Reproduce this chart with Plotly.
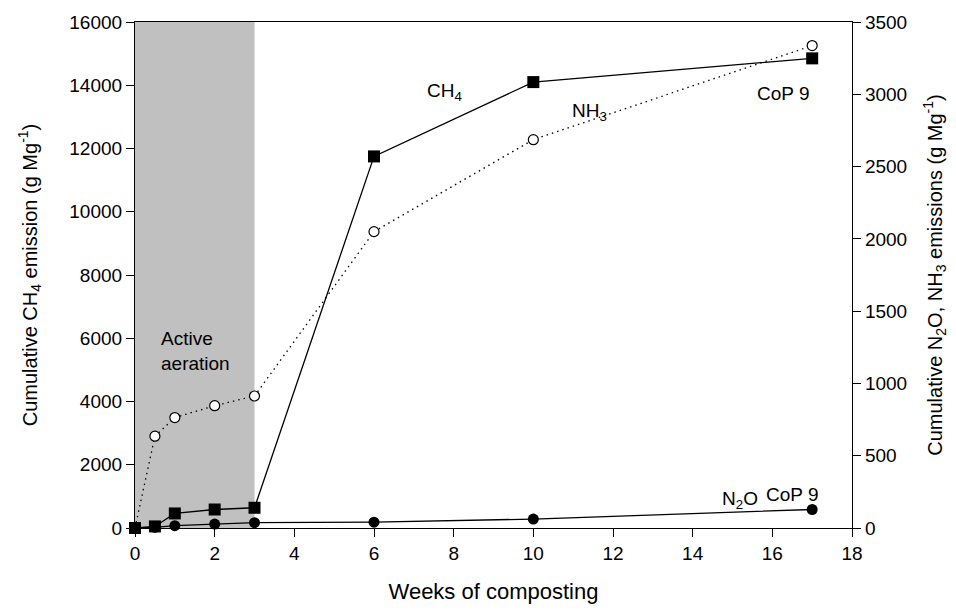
import plotly.graph_objects as go

weeks_ch4 = [0, 0.5, 1, 2, 3, 6, 10, 17]
ch4 = [0, 50, 460, 585, 640, 11750, 14100, 14850]

weeks_nh3 = [0, 0.5, 1, 2, 3, 6, 10, 17]
nh3 = [0, 635, 764, 846, 913, 2050, 2686, 3337]

weeks_n2o = [0, 0.5, 1, 2, 3, 6, 10, 17]
n2o = [0, 5, 16, 27, 37, 40, 62, 128]

FONT = "Liberation Sans, Arial, sans-serif"

fig = go.Figure()

fig.add_shape(type="rect", xref="x", yref="paper", x0=0, x1=3, y0=0, y1=1,
              fillcolor="#C0C0C0", line=dict(width=0), layer="below")

fig.add_trace(go.Scatter(x=weeks_nh3, y=nh3, yaxis="y2", mode="lines+markers",
                         line=dict(color="black", width=1.3, dash="1.5px,4px"),
                         marker=dict(symbol="circle", size=10, color="white",
                                     line=dict(color="black", width=1.2)),
                         cliponaxis=False, showlegend=False))
fig.add_trace(go.Scatter(x=weeks_n2o, y=n2o, yaxis="y2", mode="lines+markers",
                         line=dict(color="black", width=1.3),
                         marker=dict(symbol="circle", size=11, color="black"),
                         cliponaxis=False, showlegend=False))
fig.add_trace(go.Scatter(x=weeks_ch4, y=ch4, mode="lines+markers",
                         line=dict(color="black", width=1.3),
                         marker=dict(symbol="square", size=12, color="black"),
                         cliponaxis=False, showlegend=False))

ann = dict(showarrow=False, font=dict(family=FONT, size=19, color="black"))
fig.add_annotation(x=7.78, y=13800, xref="x", yref="y", text="CH<sub>4</sub>", **ann)
fig.add_annotation(x=11.4, y=13150, xref="x", yref="y", text="NH<sub>3</sub>", **ann)
fig.add_annotation(x=16.27, y=13750, xref="x", yref="y", text="CoP 9", **ann)
fig.add_annotation(x=15.2, y=900, xref="x", yref="y", text="N<sub>2</sub>O", **ann)
fig.add_annotation(x=16.5, y=1070, xref="x", yref="y", text="CoP 9", **ann)
fig.add_annotation(x=0.6, y=5600, xref="x", yref="y", xanchor="left",
                   text="Active<br>aeration", align="left", **ann)

fig.update_layout(
    width=956, height=611,
    margin=dict(l=135, r=104, t=18, b=83),
    plot_bgcolor="white", paper_bgcolor="white",
    font=dict(family=FONT, size=19, color="black"),
    xaxis=dict(range=[0, 18], tickmode="linear", tick0=0, dtick=2,
               ticks="outside", ticklen=8, tickwidth=1, tickcolor="black",
               showline=True, linecolor="black", linewidth=1.2, mirror=True,
               showgrid=False, zeroline=False, tickfont=dict(size=19),
               title=dict(text="Weeks of composting", font=dict(size=22), standoff=20)),
    yaxis=dict(range=[0, 16000], tickmode="linear", tick0=0, dtick=2000, tickformat="d",
               ticks="outside", ticklen=8, tickwidth=1, tickcolor="black",
               showline=True, linecolor="black", linewidth=1.2,
               showgrid=False, zeroline=False, tickfont=dict(size=19),
               title=dict(text="Cumulative CH<sub>4</sub> emission (g Mg<sup>-1</sup>)",
                          font=dict(size=20), standoff=26)),
    yaxis2=dict(range=[0, 3500], tickmode="linear", tick0=0, dtick=500, tickformat="d",
                overlaying="y", side="right",
                ticks="outside", ticklen=8, tickwidth=1, tickcolor="black",
                showline=True, linecolor="black", linewidth=1.2,
                showgrid=False, zeroline=False, tickfont=dict(size=19),
                title=dict(text="Cumulative N<sub>2</sub>O, NH<sub>3</sub> emissions (g Mg<sup>-1</sup>)",
                           font=dict(size=20), standoff=21)),
)

fig.write_html("out.html")
